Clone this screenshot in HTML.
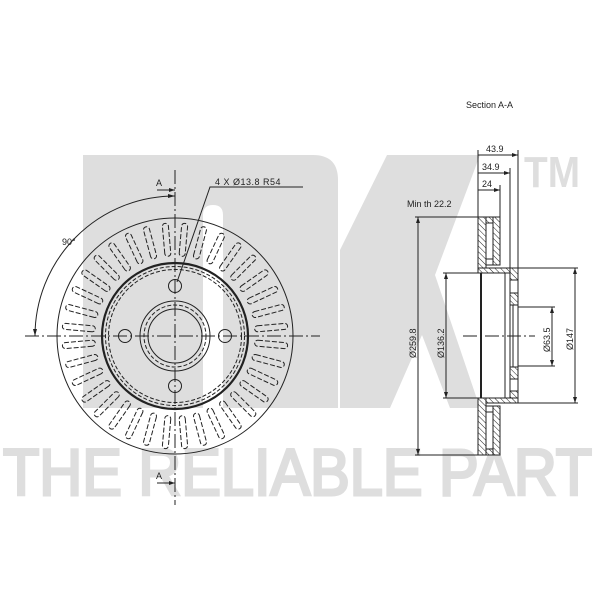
<!DOCTYPE html>
<html><head><meta charset="utf-8"><style>
html,body{margin:0;padding:0;background:#fff;}
svg{display:block;}
text{font-family:"Liberation Sans",sans-serif;}
</style></head><body>
<svg width="600" height="600" viewBox="0 0 600 600" xmlns="http://www.w3.org/2000/svg">
<defs>
<pattern id="h" width="4" height="4" patternUnits="userSpaceOnUse" patternTransform="rotate(-45)">
<rect width="4" height="4" fill="#fff"/><line x1="0" y1="0" x2="0" y2="4" stroke="#222" stroke-width="1"/>
</pattern>
<rect id="s" x="80" y="-3" width="33" height="6" rx="3" fill="none" stroke="#222" stroke-width="1" stroke-dasharray="5 2"/>
</defs>
<!-- watermark -->
<g fill="#dedede">
<path d="M83 155 H313 Q338 155 338 180 V408 H223 V215 Q223 205 213 205 Q203 205 203 215 V408 H83 Z"/>
<polygon points="387,155 480,155 435,275 480,408 450,408 422,335 390,408 340,408 340,250"/>
<text x="524" y="187" font-size="44" font-weight="bold" textLength="56" lengthAdjust="spacingAndGlyphs">TM</text>
<text x="3" y="495" font-size="66" stroke="#dedede" stroke-width="3" textLength="589" lengthAdjust="spacingAndGlyphs">THE RELIABLE PART</text>
</g>

<!-- front view -->
<g transform="translate(175 336)">
<use href="#s" transform="rotate(5)"/><use href="#s" transform="rotate(15)"/><use href="#s" transform="rotate(25)"/>
<use href="#s" transform="rotate(35)"/><use href="#s" transform="rotate(45)"/><use href="#s" transform="rotate(55)"/>
<use href="#s" transform="rotate(65)"/><use href="#s" transform="rotate(75)"/><use href="#s" transform="rotate(85)"/>
<use href="#s" transform="rotate(95)"/><use href="#s" transform="rotate(105)"/><use href="#s" transform="rotate(115)"/>
<use href="#s" transform="rotate(125)"/><use href="#s" transform="rotate(135)"/><use href="#s" transform="rotate(145)"/>
<use href="#s" transform="rotate(155)"/><use href="#s" transform="rotate(165)"/><use href="#s" transform="rotate(175)"/>
<use href="#s" transform="rotate(185)"/><use href="#s" transform="rotate(195)"/><use href="#s" transform="rotate(205)"/>
<use href="#s" transform="rotate(215)"/><use href="#s" transform="rotate(225)"/><use href="#s" transform="rotate(235)"/>
<use href="#s" transform="rotate(245)"/><use href="#s" transform="rotate(255)"/><use href="#s" transform="rotate(265)"/>
<use href="#s" transform="rotate(275)"/><use href="#s" transform="rotate(285)"/><use href="#s" transform="rotate(295)"/>
<use href="#s" transform="rotate(305)"/><use href="#s" transform="rotate(315)"/><use href="#s" transform="rotate(325)"/>
<use href="#s" transform="rotate(335)"/><use href="#s" transform="rotate(345)"/><use href="#s" transform="rotate(355)"/>
</g>
<g fill="none" stroke="#222" stroke-width="1">
<circle cx="175" cy="336" r="118"/>
<circle cx="175" cy="336" r="73" stroke-width="2.2"/>
<circle cx="175" cy="336" r="69.5" stroke-dasharray="4 2"/>
<circle cx="175" cy="336" r="66.5" stroke-dasharray="4 2"/>
<circle cx="175" cy="336" r="35"/>
<circle cx="175" cy="336" r="31" stroke-dasharray="4 2"/>
<circle cx="175" cy="336" r="27"/>
<circle cx="125" cy="336" r="6.5"/>
<circle cx="225" cy="336" r="6.5"/>
<circle cx="175" cy="286" r="6.5"/>
<circle cx="175" cy="386" r="6.5"/>
<line x1="25" y1="336" x2="320" y2="336" stroke-dasharray="14 3 2 3"/>
<line x1="175" y1="170" x2="175" y2="505" stroke-dasharray="14 3 2 3"/>
<path d="M175 196 A140 140 0 0 0 35 336"/>
<line x1="157" y1="190" x2="175" y2="190"/>
<line x1="157" y1="483" x2="175" y2="483"/>
<polyline points="177,282 210,187 303,187"/>
</g>
<g fill="#222">
<polygon points="175,196 168,194 168,198"/>
<polygon points="35,336 33,329 37,329"/>
<polygon points="175,190 169,188 169,192"/>
<polygon points="175,483 169,481 169,485"/>
<text x="156" y="186" font-size="9">A</text>
<text x="156" y="479" font-size="9">A</text>
<text x="62" y="245" font-size="9">90°</text>
<text x="215" y="185" font-size="9" letter-spacing="0.5">4 X Ø13.8 R54</text>
</g>

<!-- section view -->
<g stroke="#222" stroke-width="1">
<rect x="478" y="217" width="8" height="56" fill="url(#h)"/>
<rect x="493" y="217" width="7" height="48" fill="url(#h)"/>
<rect x="486" y="217" width="7" height="6" fill="url(#h)"/>
<rect x="486" y="259" width="7" height="6" fill="#fff"/>
<rect x="478" y="268" width="40" height="5" fill="url(#h)"/>
<rect x="510" y="268" width="8" height="12" fill="url(#h)"/>
<rect x="510" y="293" width="8" height="12" fill="url(#h)"/>
<rect x="510" y="367" width="8" height="12" fill="url(#h)"/>
<rect x="510" y="391" width="8" height="12" fill="url(#h)"/>
<rect x="478" y="398" width="40" height="5" fill="url(#h)"/>
<rect x="478" y="398" width="8" height="57" fill="url(#h)"/>
<rect x="493" y="406" width="7" height="49" fill="url(#h)"/>
<rect x="486" y="406" width="7" height="6" fill="#fff"/>
<rect x="486" y="449" width="7" height="6" fill="url(#h)"/>
<g fill="none">
<line x1="481" y1="273" x2="481" y2="398" stroke-width="2"/>
<line x1="505" y1="273" x2="505" y2="398"/>
<line x1="510" y1="280" x2="510" y2="391"/>
<line x1="513" y1="305" x2="513" y2="367"/>
<line x1="518" y1="280" x2="518" y2="293"/>
<line x1="518" y1="305" x2="518" y2="367"/>
<line x1="518" y1="379" x2="518" y2="391"/>
<line x1="463" y1="336" x2="535" y2="336" stroke-dasharray="14 3 2 3"/>
<line x1="478" y1="150" x2="478" y2="217"/>
<line x1="518" y1="150" x2="518" y2="268"/>
<line x1="510" y1="168" x2="510" y2="268"/>
<line x1="500" y1="185" x2="500" y2="217"/>
<line x1="478" y1="155" x2="518" y2="155"/>
<line x1="478" y1="173" x2="510" y2="173"/>
<line x1="478" y1="190" x2="500" y2="190"/>
<line x1="415" y1="217" x2="478" y2="217"/>
<line x1="415" y1="455" x2="478" y2="455"/>
<line x1="418" y1="217" x2="418" y2="455"/>
<line x1="443" y1="273" x2="478" y2="273"/>
<line x1="443" y1="398" x2="478" y2="398"/>
<line x1="446" y1="273" x2="446" y2="398"/>
<line x1="518" y1="307" x2="555" y2="307"/>
<line x1="518" y1="366" x2="555" y2="366"/>
<line x1="552" y1="307" x2="552" y2="366"/>
<line x1="518" y1="268" x2="578" y2="268"/>
<line x1="518" y1="403" x2="578" y2="403"/>
<line x1="575" y1="268" x2="575" y2="403"/>
</g>
</g>
<g fill="#222" font-size="9">
<polygon points="518,155 512,153 512,157"/>
<polygon points="510,173 504,171 504,175"/>
<polygon points="500,190 494,188 494,192"/>
<polygon points="418,217 416,223 420,223"/><polygon points="418,455 416,449 420,449"/>
<polygon points="446,273 444,279 448,279"/><polygon points="446,398 444,392 448,392"/>
<polygon points="552,307 550,313 554,313"/><polygon points="552,366 550,360 554,360"/>
<polygon points="575,268 573,274 577,274"/><polygon points="575,403 573,397 577,397"/>
<text x="466" y="108">Section  A-A</text>
<text x="486" y="152">43.9</text>
<text x="482" y="170">34.9</text>
<text x="482" y="187">24</text>
<text x="407" y="207">Min  th  22.2</text>
<text transform="translate(416 358) rotate(-90)">Ø259.8</text>
<text transform="translate(444 358) rotate(-90)">Ø136.2</text>
<text transform="translate(550 352) rotate(-90)">Ø63.5</text>
<text transform="translate(573 350) rotate(-90)">Ø147</text>
</g>
</svg>
</body></html>
